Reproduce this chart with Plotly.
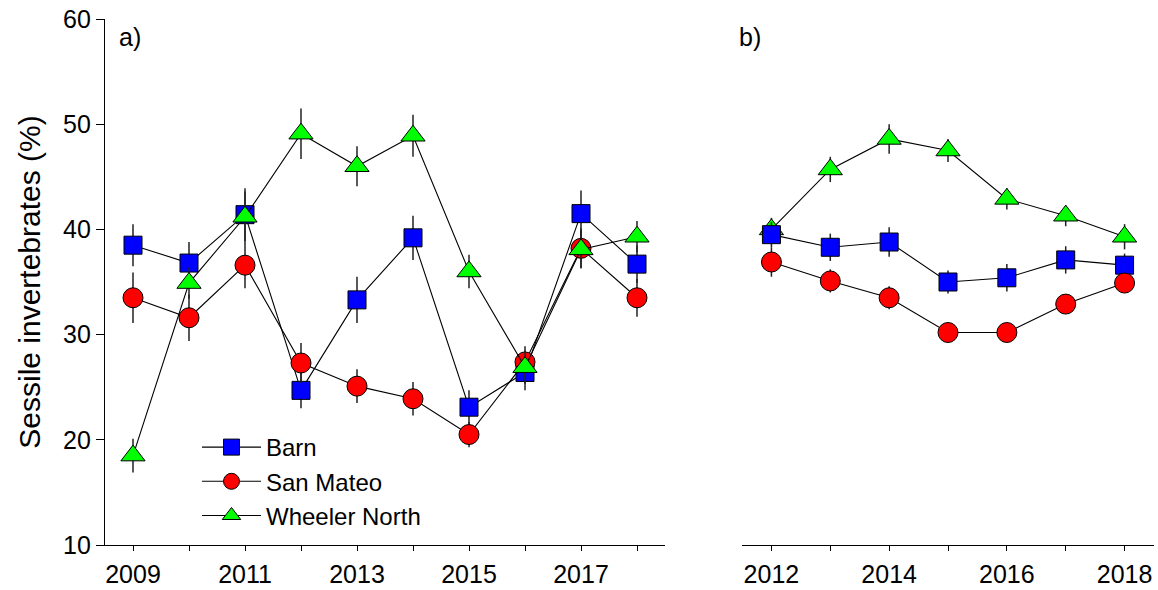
import plotly.graph_objects as go

# ---- Data ----
years_a = [2009, 2010, 2011, 2012, 2013, 2014, 2015, 2016, 2017, 2018]
barn_a = [38.5, 36.8, 41.4, 24.7, 33.3, 39.2, 23.1, 26.4, 41.5, 36.7]
barn_a_err = [2.0, 2.0, 2.5, 1.7, 2.2, 2.1, 1.6, 1.7, 2.2, 1.8]
sm_a = [33.5, 31.6, 36.6, 27.3, 25.1, 23.9, 20.5, 27.4, 38.2, 33.5]
sm_a_err = [2.4, 2.2, 2.2, 1.9, 1.6, 1.6, 1.2, 1.5, 1.9, 1.8]
wn_a = [18.5, 34.9, 41.2, 49.1, 46.0, 48.9, 36.0, 26.9, 38.1, 39.3]
wn_a_err = [1.6, 1.5, 2.4, 2.4, 1.9, 2.0, 1.6, 1.6, 1.8, 1.5]

years_b = [2012, 2013, 2014, 2015, 2016, 2017, 2018]
barn_b = [39.5, 38.3, 38.8, 35.0, 35.4, 37.1, 36.6]
barn_b_err = [1.2, 1.3, 1.4, 1.1, 1.3, 1.3, 1.1]
sm_b = [36.9, 35.1, 33.5, 30.2, 30.2, 32.9, 34.9]
sm_b_err = [1.4, 1.1, 1.1, 0.8, 0.8, 0.9, 0.9]
wn_b = [40.0, 45.7, 48.6, 47.5, 42.9, 41.3, 39.3]
wn_b_err = [1.1, 1.2, 1.4, 1.1, 1.0, 1.0, 1.2]

series_names = ["Barn", "San Mateo", "Wheeler North"]
ticks_a = [2009, 2010, 2011, 2012, 2013, 2014, 2015, 2016, 2017, 2018]
ticktext_a = ["2009", "", "2011", "", "2013", "", "2015", "", "2017", ""]
ticks_b = [2012, 2013, 2014, 2015, 2016, 2017, 2018]
ticktext_b = ["2012", "", "2014", "", "2016", "", "2018"]
y_ticks = [10, 20, 30, 40, 50, 60]
y_title = "Sessile invertebrates (%)"
panel_labels = ["a)", "b)"]

FONT = "Liberation Sans, Arial, sans-serif"
styles = {
    "Barn": dict(symbol="square", color="#0000ff", size=18),
    "San Mateo": dict(symbol="circle", color="#ff0000", size=20),
    "Wheeler North": dict(symbol="triangle-up", color="#00ff00", size=21),
}

fig = go.Figure()


def add(name, x, y, err, xa, ya, show):
    st = styles[name]
    fig.add_trace(go.Scatter(
        x=x, y=y, name=name, mode="lines+markers",
        xaxis=xa, yaxis=ya, showlegend=show,
        line=dict(color="black", width=1.1),
        marker=dict(symbol=st["symbol"], color=st["color"], size=st["size"],
                    line=dict(color="black", width=1)),
        error_y=dict(type="data", array=err, visible=True, color="#222222",
                     thickness=1.5, width=0),
    ))


add("Barn", years_a, barn_a, barn_a_err, "x", "y", True)
add("San Mateo", years_a, sm_a, sm_a_err, "x", "y", True)
add("Wheeler North", years_a, wn_a, wn_a_err, "x", "y", True)
add("Wheeler North", years_b, wn_b, wn_b_err, "x2", "y2", False)
add("Barn", years_b, barn_b, barn_b_err, "x2", "y2", False)
add("San Mateo", years_b, sm_b, sm_b_err, "x2", "y2", False)

W, H = 1158, 590
ML, MR, MT, MB = 105, 4, 19, 45
pw = W - ML - MR
ph = H - MT - MB


def px_x(sx):
    return (sx - ML) / pw


def px_y(sy):
    return (H - MB - sy) / ph


axis_common = dict(showgrid=False, zeroline=False, showline=True, linecolor="black",
                   linewidth=1.3, ticks="outside", ticklen=5, tickcolor="black",
                   tickwidth=1.2, automargin=False,
                   tickfont=dict(size=25, color="black", family=FONT))

fig.update_layout(
    width=W, height=H,
    margin=dict(l=ML, r=MR, t=MT, b=MB, autoexpand=False),
    paper_bgcolor="white", plot_bgcolor="white",
    font=dict(family=FONT, color="black", size=25),
    xaxis=dict(domain=[0, px_x(665)], range=[2008.5, 2018.5], tickmode="array",
               tickvals=ticks_a, ticktext=ticktext_a, anchor="y", ticklabelstandoff=2,
               **axis_common),
    xaxis2=dict(domain=[px_x(742), 1.0], range=[2011.5, 2018.5], tickmode="array",
                tickvals=ticks_b, ticktext=ticktext_b, anchor="y2", ticklabelstandoff=2,
                **axis_common),
    yaxis=dict(range=[10, 60], tickvals=y_ticks, anchor="x",
               title=dict(text=y_title, font=dict(size=30, family=FONT), standoff=13),
               **{**axis_common, "ticklen": 8}),
    yaxis2=dict(range=[10, 60], anchor="x2", showgrid=False, zeroline=False,
                showline=False, showticklabels=False, ticks="", automargin=False),
    legend=dict(x=px_x(197), y=px_y(425), xanchor="left", yanchor="top",
                bgcolor="rgba(0,0,0,0)", font=dict(size=24, family=FONT),
                tracegroupgap=0, itemwidth=59),
    annotations=[
        dict(text=panel_labels[0], x=px_x(117), y=px_y(37), xref="paper",
             yref="paper", showarrow=False, xanchor="left", yanchor="middle",
             font=dict(size=25, family=FONT)),
        dict(text=panel_labels[1], x=px_x(737), y=px_y(37), xref="paper",
             yref="paper", showarrow=False, xanchor="left", yanchor="middle",
             font=dict(size=25, family=FONT)),
    ],
)

fig.write_html(
    "out.html",
    config={"displayModeBar": False},
    post_script="document.body.style.margin='0';document.body.style.overflow='hidden';",
)
